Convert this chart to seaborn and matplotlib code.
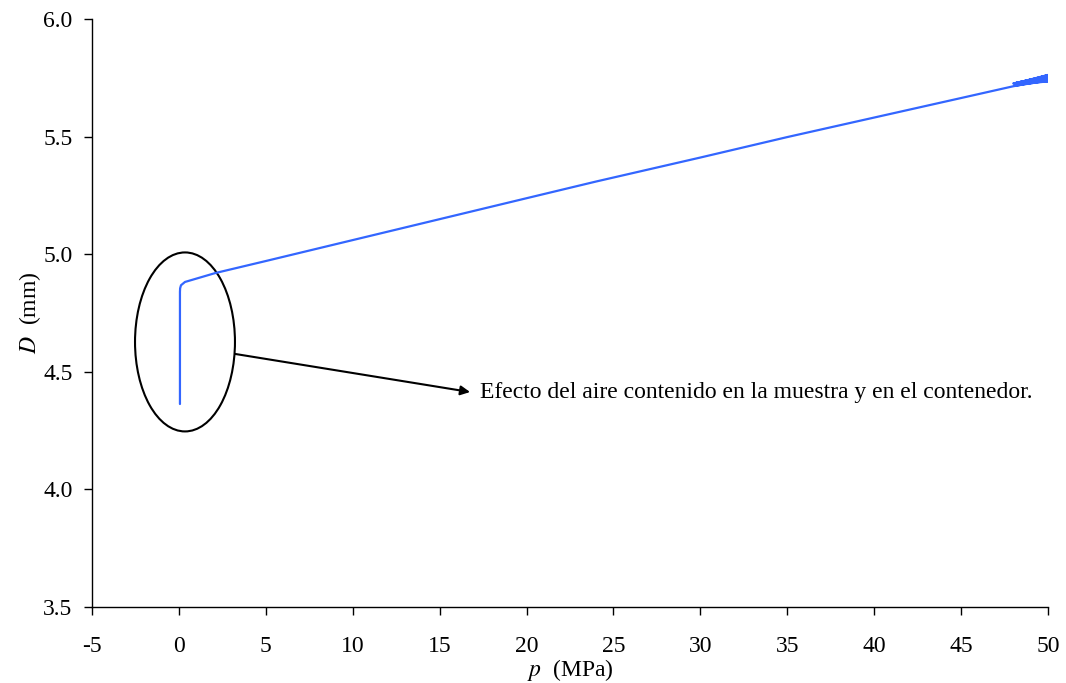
import matplotlib
matplotlib.use("Agg")
import matplotlib.pyplot as plt
import seaborn as sns
import pandas as pd
from matplotlib.patches import Ellipse
from matplotlib.ticker import FormatStrFormatter

# Data
p_vals = [0.06, 0.06, 0.07, 0.12, 0.35, 2.1, 5.0, 10.0, 15.0, 20.0, 24.0,
          30.0, 35.0, 40.0, 45.0, 48.0,
          50.0, 48.1, 50.0, 48.2, 50.0, 48.1, 50.0, 48.3, 50.0, 48.2, 50.0,
          48.0, 50.0, 48.1, 50.0, 48.2, 50.0, 48.1, 50.0, 48.2, 50.0, 48.3, 50.0]
D_vals = [4.363, 4.840, 4.855, 4.868, 4.882, 4.920, 4.971, 5.060, 5.149, 5.238, 5.309,
          5.411, 5.498, 5.581, 5.664, 5.714,
          5.742, 5.722, 5.762, 5.728, 5.754, 5.720, 5.735, 5.730, 5.760, 5.724, 5.748,
          5.726, 5.757, 5.716, 5.738, 5.725, 5.751, 5.718, 5.744, 5.729, 5.758, 5.727, 5.740]

x_ticks = [-5, 0, 5, 10, 15, 20, 25, 30, 35, 40, 45, 50]
y_ticks = [3.5, 4.0, 4.5, 5.0, 5.5, 6.0]
annotation_text = "Efecto del aire contenido en la muestra y en el contenedor."
x_label = r"$p$  (MPa)"
y_label = r"$D$  (mm)"

df = pd.DataFrame({"p": p_vals, "D": D_vals})

sns.set_style("ticks")
plt.rcParams["font.family"] = ["Liberation Serif", "DejaVu Serif"]
plt.rcParams["mathtext.fontset"] = "stix"
plt.rcParams["axes.unicode_minus"] = False

FS = 17

fig = plt.figure(figsize=(10.66, 6.83), dpi=100)
ax = fig.add_axes([92/1066, 1 - 607/683, (1048 - 92)/1066, (607 - 19)/683])

sns.lineplot(data=df, x="p", y="D", sort=False, estimator=None, ax=ax,
             color="#3366FF", linewidth=1.6)

ax.set_xlim(-5, 50)
ax.set_ylim(3.5, 6.0)
ax.set_xticks(x_ticks)
ax.set_yticks(y_ticks)
ax.yaxis.set_major_formatter(FormatStrFormatter("%.1f"))
ax.tick_params(axis="both", labelsize=FS, direction="out", length=6,
               width=1, color="black", labelcolor="black")
ax.tick_params(axis="x", pad=15)
ax.tick_params(axis="y", pad=8)
for s in ["top", "right"]:
    ax.spines[s].set_visible(False)
for s in ["left", "bottom"]:
    ax.spines[s].set_color("black")
    ax.spines[s].set_linewidth(1)

ax.set_xlabel(x_label, fontsize=FS, labelpad=0, color="black")
ax.set_ylabel(y_label, fontsize=FS, labelpad=0, color="black")

ell = Ellipse((0.35, 4.627), width=5.75, height=0.761, fill=False,
              edgecolor="black", linewidth=1.5)
ax.add_patch(ell)

ax.annotate("", xy=(16.75, 4.414), xytext=(3.23, 4.576),
            arrowprops=dict(arrowstyle="-|>", color="black", lw=1.5,
                            mutation_scale=14, shrinkA=0, shrinkB=0))
ax.text(17.35, 4.414, annotation_text, fontsize=FS, va="center", ha="left",
        color="black")

fig.savefig("out.png", dpi=100)
